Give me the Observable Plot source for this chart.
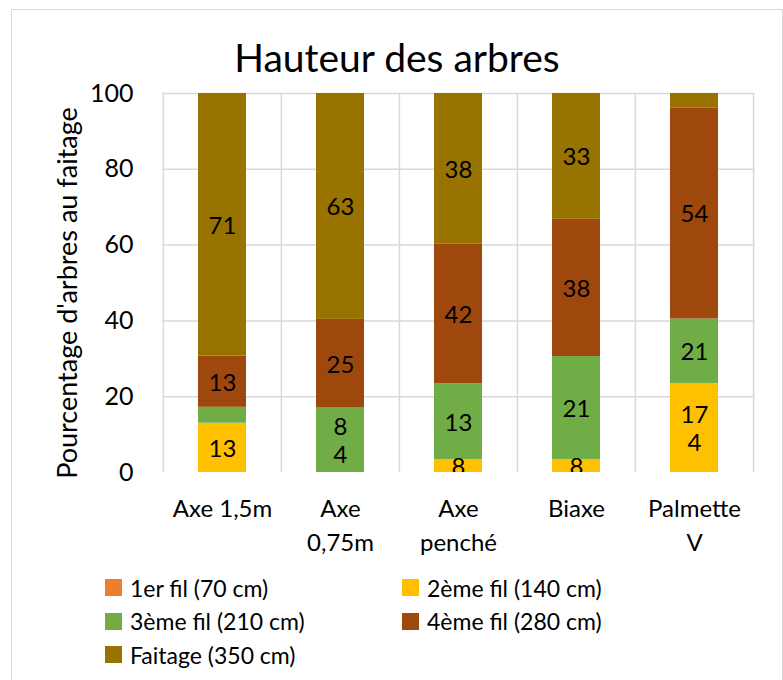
<!DOCTYPE html>
<html><head><meta charset="utf-8">
<script src="https://cdn.jsdelivr.net/npm/d3@7"></script>
<script src="https://cdn.jsdelivr.net/npm/@observablehq/plot@0.6"></script>
<style>
body{margin:0;background:#fff;font-family:Lato,sans-serif;color:#000;width:783px;height:680px;overflow:hidden;position:relative;}
#frame{position:absolute;left:11px;top:9px;width:772px;height:690px;border:1.5px solid #d9d9d9;box-sizing:border-box;}
#title{position:absolute;left:0;width:794px;top:38px;text-align:center;font-size:39px;line-height:38px;white-space:nowrap;}
#chart{position:absolute;left:0;top:0;}
#legend{position:absolute;left:105px;top:571px;display:grid;grid-template-columns:297px 297px;grid-auto-rows:33.5px;font-size:23px;}
.item{display:flex;align-items:center;white-space:nowrap;}
.sw{width:17px;height:17px;margin-right:8px;flex:none;}
</style></head>
<body>
<div id="frame"></div>
<div id="chart"></div>
<div id="title">Hauteur des arbres</div>
<div id="legend"></div>
<script>
const categories = ["Axe 1,5m","Axe 0,75m","Axe penché","Biaxe","Palmette V"];
const tickLabels = ["Axe 1,5m","Axe\n0,75m","Axe\npenché","Biaxe","Palmette\nV"];
const seriesNames = ["1er fil (70 cm)","2ème fil (140 cm)","3ème fil (210 cm)","4ème fil (280 cm)","Faitage (350 cm)"];
const seriesColors = ["#ED7D31","#FFC000","#70AD47","#9E480E","#997300"];
const yTicks = [0,20,40,60,80,100];
const yLabel = "Pourcentage d'arbres au faitage";

// segment heights (percent)
const fil1 = [0,0,0,0,0];
const fil2 = [13,0,3.4,3.4,23.5];
const fil3 = [4.2,17,20,27.2,17];
const fil4 = [13.5,23.4,36.8,36.2,55.7];
const faitage = [69.3,59.6,39.8,33.2,3.8];

// data labels as printed on the picture
const labels1 = ["","","","",""];
const labels2 = ["13","","8","8","17\n4"];
const labels3 = ["","8\n4","13","21","21"];
const labels4 = ["13","25","42","38","54"];
const labelsF = ["71","63","38","33",""];

const values = [fil1,fil2,fil3,fil4,faitage];
const labels = [labels1,labels2,labels3,labels4,labelsF];
const rows = [];
seriesNames.forEach((s,si)=>categories.forEach((c,ci)=>rows.push({cat:c,series:s,value:values[si][ci],label:labels[si][ci]})));

const W=783, mL=162, mR=30;
const step=(W-mL-mR)/categories.length;
const grid={stroke:"#d9d9d9",strokeOpacity:1,strokeWidth:1.5};

const chart = Plot.plot({
  width:W, height:560, marginLeft:mL, marginRight:mR, marginTop:93, marginBottom:88,
  style:{fontFamily:"Lato, sans-serif",fontSize:"24px",color:"#000",background:"transparent"},
  x:{domain:categories,padding:0,label:null},
  y:{domain:[0,100],label:null},
  color:{domain:seriesNames,range:seriesColors},
  marks:[
    Plot.gridY({ticks:yTicks.filter(t=>t>0),...grid}),
    Plot.ruleX(categories,{x:d=>d,dx:-step/2,y1:0,y2:100,...grid}),
    Plot.ruleX(categories.slice(-1),{x:d=>d,dx:step/2,y1:0,y2:100,...grid}),
    Plot.barY(rows,{x:"cat",y:"value",fill:"series",z:"series",order:seriesNames,insetLeft:35,insetRight:35}),
    Plot.text(rows,Plot.stackY({x:"cat",y:"value",z:"series",order:seriesNames,text:"label",lineHeight:1.15,fontSize:24,fill:"#000",clip:true})),
    Plot.axisY({ticks:yTicks,tickSize:0,tickPadding:29,fontSize:25,label:null,fill:"#000"}),
    Plot.axisX({tickSize:0,tickPadding:21,tickFormat:d=>tickLabels[categories.indexOf(d)],lineHeight:1.4,fontSize:24,label:null,fill:"#000"}),
    Plot.text([yLabel],{frameAnchor:"left",textAnchor:"middle",dx:-94,dy:10,rotate:-90,fontSize:27,fill:"#000"})
  ]
});
document.getElementById("chart").appendChild(chart);

const lg=document.getElementById("legend");
seriesNames.forEach((s,i)=>{
  const it=document.createElement("div");it.className="item";
  const sw=document.createElement("span");sw.className="sw";sw.style.background=seriesColors[i];
  it.appendChild(sw);it.appendChild(document.createTextNode(s));lg.appendChild(it);
});
</script>
</body></html>
